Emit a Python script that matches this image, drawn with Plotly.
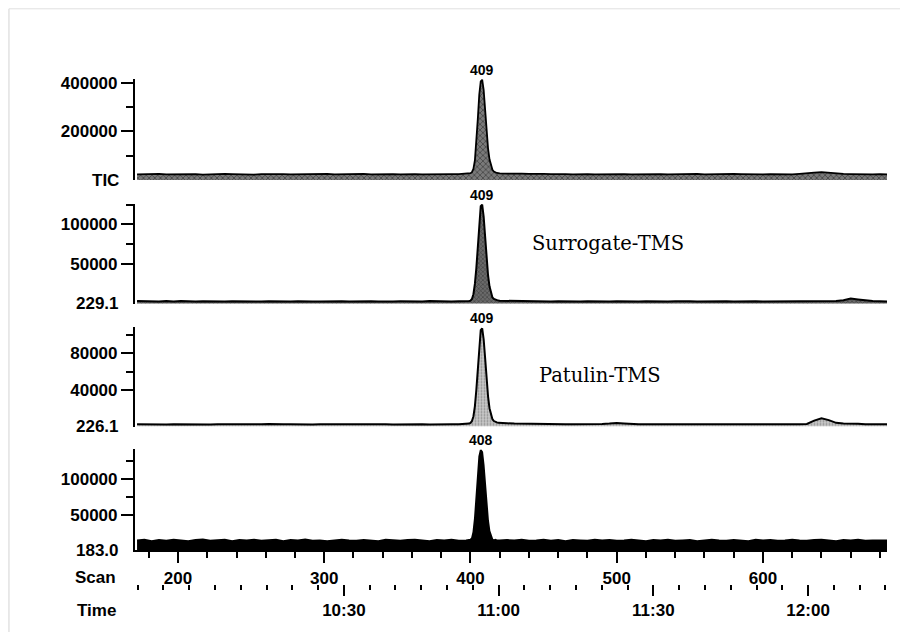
import plotly.graph_objects as go

# ---------------- data (intensities in thousands of counts) ----------------
scans = list(range(172, 398, 5)) + list(range(398, 421)) + list(range(425, 686, 5))

tic = [23, 24, 22, 25, 23, 24, 23, 25, 24, 22, 24, 23, 25, 24, 23, 24, 22, 24, 25, 23,
       24, 23, 24, 22, 23, 24, 25, 23, 24, 23, 24, 25, 23, 24, 22, 24, 23, 25, 24, 23,
       24, 23, 25, 24, 24, 25,
       26, 27, 28, 32, 46, 80, 150, 250, 350, 405, 412, 370, 290, 200, 130, 85, 56, 42, 35, 31,
       29, 28, 27,
       26, 27, 26, 25, 26, 25, 24, 25, 24, 23, 25, 24, 23, 24, 25, 23, 24, 23, 24, 25,
       23, 24, 23, 24, 23, 24, 25, 23, 24, 23, 24, 25, 24, 23, 24, 23, 24, 23, 24, 23,
       25, 26, 30, 32, 29, 26, 25, 24, 23, 24, 23, 24, 23]

surrogate = [3.5, 3, 3.2, 2.8, 3.4, 3, 3.6, 3.1, 2.9, 3.3, 3, 3.4, 2.8, 3.2, 3, 3.5, 3.1, 2.9, 3.3, 3,
             3.2, 2.8, 3.1, 3.4, 3, 2.9, 3.2, 3, 3.3, 2.8, 3.1, 3, 3.2, 2.9, 3.3, 3, 3.1, 2.8, 3.2, 3,
             3.4, 3, 3.1, 2.9, 3.2, 3.3,
             3, 3.5, 4, 6, 12, 25, 45, 75, 105, 123, 125, 110, 85, 58, 36, 22, 13, 8, 6, 5,
             4.5, 4, 3.8,
             3.6, 3.4, 3.3, 3.2, 3.4, 3.1, 3, 3.2, 2.9, 3.1, 3, 3.2, 2.9, 3.1, 3, 3.3, 2.9, 3.1, 3, 3.2,
             2.9, 3.1, 3, 3.2, 2.8, 3.1, 3, 3.2, 2.9, 3, 3.1, 2.9, 3.2, 3, 3.1, 2.9, 3, 3.2, 2.9, 3.1,
             3, 3.2, 3, 3.1, 3, 3.4, 4.5, 6.5, 5.5, 4, 3.4, 3.1, 3]

patulin = [2.5, 2.3, 2.6, 2.4, 2.2, 2.5, 2.3, 2.6, 2.4, 2.5, 2.2, 2.4, 2.6, 2.3, 2.5, 2.4, 2.2, 2.5, 2.7, 2.3,
           2.4, 2.6, 2.3, 2.5, 2.2, 2.4, 2.5, 2.3, 2.6, 2.4, 2.2, 2.5, 2.3, 2.4, 2.6, 2.3, 2.5, 2.4, 2.2, 2.5,
           2.3, 2.6, 2.4, 2.5, 2.6, 2.8,
           3, 3.2, 4, 6, 11, 22, 40, 65, 90, 105, 107, 95, 75, 52, 33, 20, 12, 8, 6, 5,
           4.5, 4, 3.8,
           3.6, 3.2, 3, 2.8, 2.7, 2.6, 2.5, 2.7, 2.4, 2.6, 2.5, 2.4, 2.6, 2.8, 3.2, 3.8, 3.4, 2.7, 2.5, 2.4,
           2.6, 2.3, 2.5, 2.4, 2.6, 2.3, 2.5, 2.4, 2.6, 2.3, 2.5, 2.4, 2.6, 2.3, 2.5, 2.4, 2.6, 2.5, 2.4, 2.6,
           2.5, 2.8, 6.5, 9, 7, 4, 3.4, 2.8, 3, 2.5, 2.7, 2.4, 2.5]

ion183 = [14, 15, 13, 14.5, 13.5, 15, 14, 13, 14.5, 15.5, 13.5, 14, 15, 13, 14.5, 14, 15, 13.5, 14, 15,
          13, 14.5, 14, 15.5, 13.5, 14, 13, 14.5, 15, 14, 13.5, 14.5, 14, 13, 15, 14, 13.5, 14.5, 15, 14,
          13, 14.5, 14, 15, 13.5, 14,
          14, 14.5, 15, 17, 26, 45, 75, 108, 132, 141, 138, 120, 92, 65, 42, 27, 19, 15, 14, 15,
          14, 14.5, 14,
          14.5, 14, 15, 13.5, 14, 15, 13.5, 14.5, 13, 14.5, 14, 13.5, 15, 14, 14.5, 13.5, 14, 15, 14, 13,
          14.5, 14, 15, 13.5, 14, 14.5, 13, 14, 15, 14, 13.5, 14.5, 14, 13, 15, 14, 14.5, 13.5, 14, 15,
          14, 13.5, 14.5, 15, 14, 13, 14.5, 14, 15, 13.5, 14, 14.5, 14]

for s in (tic, surrogate, patulin, ion183):
    assert len(s) == len(scans), len(s)

channel_labels = ["TIC", "229.1", "226.1", "183.0"]
peak_labels = ["409", "409", "409", "408"]
y_ranges = [415, 126, 109, 142]
y_tickvals = [[200, 400], [50, 100], [40, 80], [50, 100]]
y_ticktext = [["200000", "400000"], ["50000", "100000"], ["40000", "80000"], ["50000", "100000"]]
y_minor = [[100, 300], [75, 125], [60, 100], [75, 125]]
compound_labels = ["", "Surrogate-TMS", "Patulin-TMS", ""]

scan_range = [170.6, 684.8]
time_range = [589.5, 735.3]          # seconds
time_tickvals = [630, 660, 690, 720]
time_ticktext = ["10:30", "11:00", "11:30", "12:00"]

# ---------------- layout geometry ----------------
domains = [[0.80, 1.0], [0.5549, 0.7529], [0.3118, 0.5098], [0.0667, 0.2667]]
fills = [
    dict(fillpattern=dict(shape="x", fgcolor="#1a1a1a", bgcolor="#7a7a7a", size=4, solidity=0.4)),
    dict(fillpattern=dict(shape="x", fgcolor="#111111", bgcolor="#6a6a6a", size=3, solidity=0.35)),
    dict(fillpattern=dict(shape=".", fgcolor="#555555", bgcolor="#c8c8c8", size=3, solidity=0.3)),
    dict(fillcolor="#000000"),
]
line_widths = [1.8, 2.0, 2.0, 1.8]

series = [tic, surrogate, patulin, ion183]
FONT = "Liberation Sans"

fig = go.Figure()
for i, vals in enumerate(series):
    n = "" if i == 0 else str(i + 1)
    fig.add_trace(go.Scatter(
        x=scans, y=vals, mode="lines", fill="tozeroy",
        line=dict(color="black", width=line_widths[i]),
        xaxis="x" + n, yaxis="y" + n, hoverinfo="skip", showlegend=False,
        **fills[i]))

# invisible trace to bind the time axis
fig.add_trace(go.Scatter(x=time_tickvals, y=[0] * len(time_tickvals), mode="markers",
                         marker=dict(opacity=0), xaxis="x5", yaxis="y4",
                         hoverinfo="skip", showlegend=False))

layout = dict(
    width=900, height=624,
    margin=dict(l=127, r=21, t=71, b=43),
    paper_bgcolor="white", plot_bgcolor="white",
    showlegend=False,
    font=dict(family=FONT, size=17, color="black", weight="bold"),
)

annotations = []
for i in range(4):
    n = "" if i == 0 else str(i + 1)
    bottom = (i == 3)
    layout["xaxis" + n] = dict(
        domain=[0, 1], range=scan_range, anchor="y" + n,
        showgrid=False, zeroline=False,
        showline=bottom, linecolor="black", linewidth=2,
        showticklabels=bottom,
        ticks="outside" if bottom else "", ticklen=11, tickwidth=2, tickcolor="black",
        tick0=0, dtick=100,
        minor=dict(ticks="outside" if bottom else "", ticklen=6, tickwidth=2,
                   tickcolor="black", dtick=20, tick0=0, showgrid=False),
        tickfont=dict(family=FONT, size=17, color="black", weight="bold"),
        fixedrange=True,
    )
    if i > 0:
        layout["xaxis" + n]["matches"] = "x"
    layout["yaxis" + n] = dict(
        domain=domains[i], range=[0, y_ranges[i]], anchor="x" + n,
        showgrid=False, zeroline=False,
        showline=True, linecolor="black", linewidth=2.2,
        tickmode="array", tickvals=y_tickvals[i], ticktext=y_ticktext[i],
        ticks="outside", ticklen=12, tickwidth=2, tickcolor="black",
        minor=dict(tickmode="array", tickvals=y_minor[i], ticks="outside",
                   ticklen=7, tickwidth=2, tickcolor="black", showgrid=False),
        tickfont=dict(family=FONT, size=17, color="black", weight="bold"),
        fixedrange=True,
    )
    annotations.append(dict(
        xref="paper", yref="y" + n, x=0, y=0, xanchor="right", yanchor="middle",
        xshift=-14, text=channel_labels[i], showarrow=False,
        font=dict(family=FONT, size=17, color="black", weight="bold")))
    vals = series[i]
    k = max(range(len(vals)), key=lambda j: vals[j])
    annotations.append(dict(
        xref="x" + n, yref="y" + n, x=scans[k], y=vals[k], xanchor="center",
        yanchor="bottom", yshift=0, text=peak_labels[i], showarrow=False,
        font=dict(family=FONT, size=14, color="black", weight="bold")))

annotations.append(dict(xref="paper", yref="paper", x=0.629, y=0.675, xanchor="center",
                        yanchor="middle", text=compound_labels[1], showarrow=False,
                        font=dict(family="DejaVu Serif", size=19.5, color="black", weight="normal")))
annotations.append(dict(xref="paper", yref="paper", x=0.618, y=0.4137, xanchor="center",
                        yanchor="middle", text=compound_labels[2], showarrow=False,
                        font=dict(family="DejaVu Serif", size=19.5, color="black", weight="normal")))

annotations.append(dict(xref="paper", yref="paper", x=-0.0226, y=0.0138, xanchor="right",
                        yanchor="middle", text="Scan", showarrow=False,
                        font=dict(family=FONT, size=17, color="black", weight="bold")))
annotations.append(dict(xref="paper", yref="paper", x=-0.0226, y=-0.053, xanchor="right",
                        yanchor="middle", text="Time", showarrow=False,
                        font=dict(family=FONT, size=17, color="black", weight="bold")))

layout["xaxis5"] = dict(
    overlaying="x4", anchor="free", position=0, side="bottom",
    range=time_range, showgrid=False, zeroline=False, showline=False,
    tickmode="array", tickvals=time_tickvals, ticktext=time_ticktext,
    ticks="outside", ticklen=11, tickwidth=2, tickcolor="black",
    minor=dict(tickmode="linear", tick0=0, dtick=5, ticks="outside", ticklen=5,
               tickwidth=2, tickcolor="black", showgrid=False),
    tickfont=dict(family=FONT, size=17, color="black", weight="bold"),
    fixedrange=True,
)

layout["annotations"] = annotations
layout["shapes"] = [
    dict(type="line", xref="paper", yref="paper", x0=-0.1676, x1=-0.1676, y0=-0.1, y1=1.139,
         line=dict(color="#d4d4d4", width=1)),
    dict(type="line", xref="paper", yref="paper", x0=-0.1676, x1=1.03, y0=1.139, y1=1.139,
         line=dict(color="#e0e0e0", width=1)),
]

fig.update_layout(**layout)
fig.write_html("out.html")
